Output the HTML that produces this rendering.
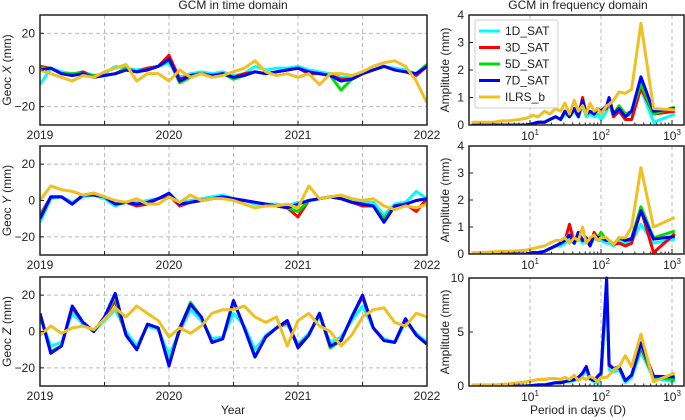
<!DOCTYPE html>
<html><head><meta charset="utf-8"><style>
body{margin:0;background:#fff;}
svg{display:block;font-family:"Liberation Sans",Arial,sans-serif;}
</style></head><body>
<svg id="c" width="685" height="420" viewBox="0 0 685 420"></svg>
<script>
// ---- time-domain data (monthly, Jan 2019 .. Jan 2022) ----
const months=[0,1,2,3,4,5,6,7,8,9,10,11,12,13,14,15,16,17,18,19,20,21,22,23,24,25,26,27,28,29,30,31,32,33,34,35,36];
const xCyan=[-8,1,-1,-2,-1,-3,-2,2,1,0,1,2,4,-4,-2,-1,-2,-1,-3,-2,2,0,1,1,2,0,-1,-2,-4,-4,-1,0,2,1,0,-2,3];
const xRed=[2,1,-2,-3,-1,-4,-3,-2,0,-1,1,2,8,-5,-3,-2,-3,-2,-4,-2,-1,-2,-1,0,1,-2,-2,-3,-5,-5,-2,0,2,0,-1,-3,2];
const xGreen=[1,1,-2,-2,-2,-3,-3,-2,1,-1,0,2,5,-7,-4,-2,-3,-2,-5,-3,-1,-2,-1,0,1,-1,-2,-3,-11,-5,-2,0,2,0,-1,-2,3];
const xBlue=[0,1,-2,-3,-2,-4,-3,-2,0,-1,0,2,6,-6,-3,-2,-3,-2,-4,-3,-1,-2,-1,0,1,-1,-2,-3,-6,-5,-2,0,2,0,-1,-2,2];
const xYellow=[0,-2,-4,-6,-3,-4,-1,1,3,-6,-2,-2,-6,0,-4,-2,-4,-3,-1,1,5,-1,-3,-2,-4,-2,-8,-2,-2,-3,-1,2,4,5,2,-6,-18];
const yCyan=[-12,1,2,-1,2,3,1,-3,-1,-1,0,1,3,-1,0,1,2,3,1,0,-2,-2,-2,-3,-1,0,1,2,1,0,-1,-1,-8,-2,-1,5,1];
const yRed=[-8,2,2,-2,3,4,2,-2,-1,-3,-2,1,3,-3,-1,0,1,2,1,0,-1,-2,-3,-4,-9,0,1,2,1,-1,-3,-3,-10,-3,-2,-6,1];
const yGreen=[-9,2,2,-2,3,3,2,-2,-1,-2,-1,1,4,-2,-1,0,1,2,1,0,-1,-2,-3,-4,-6,0,1,2,1,-1,-2,-3,-10,-3,-2,0,1];
const yBlue=[-10,2,2,-2,3,3,2,-2,-1,-2,-1,1,4,-2,-1,0,1,2,1,0,-1,-2,-3,-4,-2,0,1,2,1,-1,-2,-3,-12,-3,-2,0,1];
const yYellow=[0,8,6,5,3,4,2,0,-1,1,-2,-2,2,-1,3,0,1,1,0,-2,-4,-3,-3,-2,-4,8,1,2,3,1,0,1,-3,-5,-3,-4,-2];
const zCyan=[8,-8,-6,10,4,0,6,12,0,-8,3,1,-13,0,12,6,-4,-3,10,3,-10,-2,2,4,-7,-1,8,-6,-3,6,14,2,-4,-6,5,-1,-6];
const zRed=[10,-11,-8,13,5,0,8,17,-2,-10,4,2,-18,1,15,8,-6,-4,17,2,-14,-3,2,5,-8,-2,10,-9,-5,8,19,2,-5,-6,7,-2,-7];
const zGreen=[10,-11,-8,14,5,0,8,19,-2,-10,4,2,-18,2,16,8,-6,-4,17,2,-14,-3,2,6,-9,-2,10,-9,-5,8,20,2,-5,-6,7,-2,-7];
const zBlue=[10,-12,-8,14,5,0,8,21,-2,-10,4,2,-19,2,15,8,-6,-4,17,2,-14,-3,2,6,-9,-2,10,-8,-5,8,20,2,-5,-6,7,-2,-7];
const zYellow=[-2,3,-1,2,3,1,7,13,8,14,10,6,-3,2,-1,3,10,12,12,14,8,5,8,-8,6,10,3,0,-8,-2,8,12,13,5,3,10,8];
// ---- frequency-domain data ----
const periods=[1.5,2,3,4,5,7,9,11,13,16,19,23,27,31,36,42,48,55,62,70,80,90,100,120,130,150,180,220,270,365,550,1096];
const fxCyan=[0,0,0,0,0,0,0,0.05,0.1,0.1,0.2,0.3,0.2,0.4,0.3,0.5,0.3,0.7,0.3,0.4,0.3,0.4,0.2,0.5,0.8,0.3,0.5,0.3,0.4,1.3,0.1,0.4];
const fxRed=[0,0,0,0,0,0,0,0.05,0.1,0.1,0.2,0.3,0.2,0.5,0.3,0.6,0.3,1.0,0.4,0.5,0.4,0.6,0.5,0.6,0.9,0.3,0.5,0.2,0.2,1.35,0.4,0.5];
const fxGreen=[0,0,0,0,0,0,0,0.05,0.1,0.1,0.2,0.3,0.2,0.5,0.3,0.6,0.3,0.9,0.4,0.5,0.4,0.6,0.5,0.7,0.9,0.4,0.7,0.4,0.5,1.5,0.4,0.65];
const fxBlue=[0,0,0,0,0,0,0,0.05,0.1,0.1,0.2,0.3,0.2,0.5,0.3,0.6,0.3,0.9,0.4,0.5,0.4,0.6,0.5,0.7,1.0,0.4,0.6,0.3,0.5,1.75,0.5,0.6];
const fxYellow=[0.1,0.1,0.1,0.15,0.15,0.2,0.25,0.35,0.3,0.5,0.4,0.6,0.5,0.8,0.4,0.9,0.5,0.7,0.4,0.8,0.5,0.6,0.4,0.7,0.75,0.9,1.2,1.15,1.3,3.7,0.6,0.55];
const fyCyan=[0,0,0,0,0,0,0,0.05,0.05,0.1,0.2,0.3,0.3,0.4,0.5,0.4,0.6,0.4,0.5,0.3,0.6,0.5,0.5,0.4,0.4,0.3,0.5,0.4,0.45,1.1,0.4,0.55];
const fyRed=[0,0,0,0,0,0,0,0.05,0.05,0.1,0.2,0.3,0.4,0.5,1.1,0.4,0.8,0.5,0.6,0.3,0.8,0.6,0.6,0.5,0.5,0.35,0.4,0.3,0.4,1.65,0.05,0.75];
const fyGreen=[0,0,0,0,0,0,0,0.05,0.05,0.1,0.2,0.3,0.4,0.6,0.7,0.4,0.8,0.5,0.6,0.3,0.7,0.6,0.8,0.5,0.5,0.35,0.6,0.5,0.6,1.75,0.6,0.85];
const fyBlue=[0,0,0,0,0,0,0,0.05,0.05,0.1,0.2,0.3,0.4,0.5,0.7,0.4,0.8,0.5,0.6,0.3,0.7,0.6,0.6,0.5,0.5,0.35,0.6,0.5,0.55,1.6,0.55,0.65];
const fyYellow=[0.05,0.05,0.08,0.1,0.1,0.12,0.15,0.2,0.25,0.3,0.4,0.5,0.5,0.6,0.4,0.6,0.5,1.0,0.4,0.6,0.7,0.5,0.6,0.6,0.5,0.35,0.6,0.6,1.0,3.2,1.0,1.35];
const fzCyan=[0,0,0,0,0,0,0,0.05,0.1,0.1,0.2,0.3,0.3,0.4,0.4,0.5,0.6,1.0,1.4,0.6,0.4,0.2,0.8,8.5,1.5,1.3,1.5,0.3,0.8,3.2,0.7,0.4];
const fzRed=[0,0,0,0,0,0,0,0.05,0.1,0.1,0.2,0.3,0.3,0.4,0.5,0.6,0.8,1.2,1.7,0.7,0.5,0.9,1.1,9.5,1.9,1.6,1.7,0.5,1.0,3.6,0.8,0.6];
const fzGreen=[0,0,0,0,0,0,0,0.05,0.1,0.1,0.2,0.3,0.3,0.4,0.5,0.6,0.8,1.2,1.8,0.7,0.5,0.9,1.2,9.7,2,1.6,1.8,0.5,1.0,3.8,0.8,0.6];
const fzBlue=[0,0,0,0,0,0,0,0.05,0.1,0.1,0.2,0.3,0.3,0.4,0.5,0.6,0.8,1.2,1.8,0.7,0.5,0.9,1.2,10,2,1.6,1.8,0.5,1.0,4.0,0.9,0.85];
const fzYellow=[0.1,0.1,0.1,0.15,0.2,0.3,0.4,0.5,0.6,0.6,0.7,0.7,0.6,0.8,0.6,1.0,0.5,0.8,0.6,0.9,0.7,0.4,0.8,0.8,1.0,1.5,1.8,2.8,1.8,4.8,0.4,1.2];
const yearLabels=["2019","2020","2021","2022"];
const yTimeTicks=[-20,0,20];
const seriesNames=["1D_SAT","3D_SAT","5D_SAT","7D_SAT","ILRS_b"];
const colors=["#00ffff","#ff0000","#00e000","#0000ff","#f0c020"];

const svg=document.getElementById('c');
const NS="http://www.w3.org/2000/svg";
function el(tag,attrs,parent){const e=document.createElementNS(NS,tag);for(const k in attrs)e.setAttribute(k,attrs[k]);(parent||svg).appendChild(e);return e;}
function txt(s,x,y,attrs,name){const t=el('text',Object.assign({x:x,y:y,'font-size':12,fill:'#222'},attrs||{}));t.textContent=s;


return t;}

const LX0=40,LX1=427;
const tPanels=[
 {top:15,bot:125,label:"X",data:[xCyan,xRed,xGreen,xBlue,xYellow],name:"x"},
 {top:146,bot:255,label:"Y",data:[yCyan,yRed,yGreen,yBlue,yYellow],name:"y"},
 {top:277,bot:386,label:"Z",data:[zCyan,zRed,zGreen,zBlue,zYellow],name:"z"}];
txt("GCM in time domain",233,9,{'text-anchor':'middle'},'time-domain-title');
txt("GCM in frequency domain",578,9,{'text-anchor':'middle'},'frequency-domain-title');
tPanels.forEach((p,pi)=>{
 const g=el('g',{});
 
 
 const sx=m=>LX0+m/36*(LX1-LX0);
 const sy=v=>p.top+(30-v)/60*(p.bot-p.top);
 for(let h=6;h<36;h+=6){el('line',{x1:sx(h),x2:sx(h),y1:p.top,y2:p.bot,stroke:'#bbb','stroke-dasharray':'4,3'},g);}
 [20,-20].forEach(v=>el('line',{x1:LX0,x2:LX1,y1:sy(v),y2:sy(v),stroke:'#bbb','stroke-dasharray':'4,3'},g));
 const cp=el('clipPath',{id:'ct'+pi},g);el('rect',{x:LX0,y:p.top,width:LX1-LX0,height:p.bot-p.top},cp);
 p.data.forEach((arr,si)=>{
  const pl=el('polyline',{points:arr.map((v,i)=>sx(months[i])+','+sy(v)).join(' '),fill:'none',stroke:colors[si],'stroke-width':3,'stroke-linejoin':'round','clip-path':'url(#ct'+pi+')'},g);
  
  
 });
 el('rect',{x:LX0,y:p.top,width:LX1-LX0,height:p.bot-p.top,fill:'none',stroke:'#222','stroke-width':1.5},g);
 for(let h=6;h<36;h+=6){el('line',{x1:sx(h),x2:sx(h),y1:p.bot,y2:p.bot-4,stroke:'#222'},g);}
 yTimeTicks.forEach(v=>{el('line',{x1:LX0,x2:LX0+4,y1:sy(v),y2:sy(v),stroke:'#222'},g);
  txt(String(v).replace('-','\u2212'),35,sy(v)+4,{'text-anchor':'end'},'y-tick-'+p.name);});
 yearLabels.forEach((s,i)=>txt(s,sx(i*12),p.bot+14,{'text-anchor':'middle'},'x-tick-'+s));
 const yl=txt("",11,(p.top+p.bot)/2,{'text-anchor':'middle',transform:'rotate(-90 11 '+((p.top+p.bot)/2)+')'},'y-axis-title-'+p.name);
 yl.innerHTML='Geoc <tspan font-style="italic">'+p.label+'</tspan> (mm)';
});
txt("Year",233,414,{'text-anchor':'middle'},'x-axis-title-time');

const RX0=469,RX1=684;
const px=v=>530+(Math.log10(v)-1)*71;
const fPanels=[
 {top:15,bot:125,max:4,ticks:[0,1,2,3,4],data:[fxCyan,fxRed,fxGreen,fxBlue,fxYellow],name:"x"},
 {top:146,bot:254,max:4,ticks:[0,1,2,3,4],data:[fyCyan,fyRed,fyGreen,fyBlue,fyYellow],name:"y"},
 {top:278,bot:386,max:10,ticks:[0,5,10],data:[fzCyan,fzRed,fzGreen,fzBlue,fzYellow],name:"z"}];
fPanels.forEach((p,pi)=>{
 const g=el('g',{});
 
 
 const sy=v=>p.bot-v/p.max*(p.bot-p.top);
 [10,100,1000].forEach(d=>el('line',{x1:px(d),x2:px(d),y1:p.top,y2:p.bot,stroke:'#bbb','stroke-dasharray':'4,3'},g));
 const cp=el('clipPath',{id:'cf'+pi},g);el('rect',{x:RX0,y:p.top-2,width:RX1-RX0,height:p.bot-p.top+2},cp);
 p.data.forEach((arr,si)=>{
  const pl=el('polyline',{points:arr.map((v,i)=>px(periods[i])+','+sy(v)).join(' '),fill:'none',stroke:colors[si],'stroke-width':3,'stroke-linejoin':'round','clip-path':'url(#cf'+pi+')'},g);
  
  
 });
 el('rect',{x:RX0,y:p.top,width:RX1-RX0,height:p.bot-p.top,fill:'none',stroke:'#222','stroke-width':1.5},g);
 for(let d=1;d<=3;d++){for(let m=2;m<=9;m++){const v=m*Math.pow(10,d-1);const x=px(v);if(x>RX0&&x<RX1)el('line',{x1:x,x2:x,y1:p.bot,y2:p.bot-2.5,stroke:'#222'},g);}}
 [10,100,1000].forEach((d,i)=>{el('line',{x1:px(d),x2:px(d),y1:p.bot,y2:p.bot-5,stroke:'#222'},g);
  const t=txt("",px(d),p.bot+15,{'text-anchor':'middle'},'x-tick-decade');t.innerHTML='10<tspan dy="-5" font-size="8">'+(i+1)+'</tspan>';});
 p.ticks.forEach(v=>{el('line',{x1:RX0,x2:RX0+4,y1:sy(v),y2:sy(v),stroke:'#222'},g);
  txt(String(v),RX0-5,sy(v)+4,{'text-anchor':'end'},'y-tick-amplitude');});
 txt("Amplitude (mm)",449,(p.top+p.bot)/2,{'text-anchor':'middle',transform:'rotate(-90 449 '+((p.top+p.bot)/2)+')'},'y-axis-title-amplitude-'+p.name);
});
txt("Period in days (D)",578,414,{'text-anchor':'middle'},'x-axis-title-frequency');

// legend
const lg=el('g',{});


el('rect',{x:475,y:20,width:83,height:88,fill:'#fff',stroke:'#ccc',rx:2},lg);
seriesNames.forEach((n,i)=>{const y=31+i*16.5;
 const ln=el('line',{x1:479,x2:500,y1:y,y2:y,stroke:colors[i],'stroke-width':3},lg);
 
 
 const t=txt(n,505,y+4,{},'legend-entry');lg.appendChild(t);});
</script>
</body></html>
